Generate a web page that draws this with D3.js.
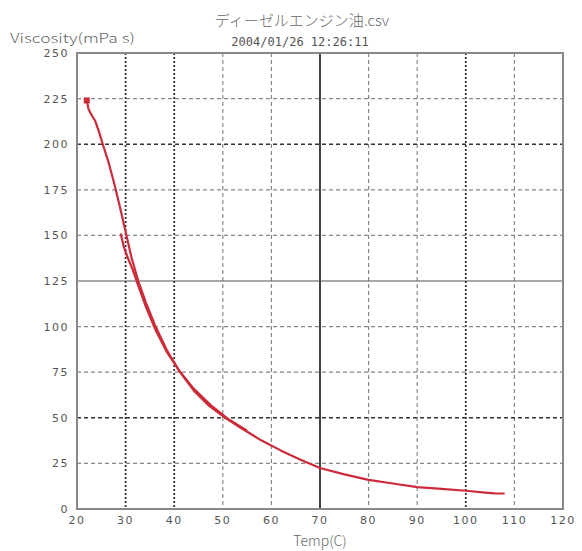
<!DOCTYPE html>
<html>
<head>
<meta charset="utf-8">
<style>
  body { margin: 0; background: #fff; }
  svg { display: block; }
  .tick-label { font-family: "DejaVu Sans", sans-serif; font-size: 11px; letter-spacing: 1.5px; fill: #555; }
  .axis-title { font-family: "Noto Sans CJK JP", "DejaVu Sans", sans-serif; font-weight: 300; fill: #666; }
  .stamp { font-family: "DejaVu Sans Mono", monospace; font-size: 12px; fill: #555; }
</style>
<script src="https://cdn.jsdelivr.net/npm/d3@7/dist/d3.min.js"></script>
</head>
<body>
<div id="chart"></div>
<script>
// ---- data ----
var xTicks = [20, 30, 40, 50, 60, 70, 80, 90, 100, 110, 120];
var yTicks = [0, 25, 50, 75, 100, 125, 150, 175, 200, 225, 250];

// first run (heating), temp / viscosity
var run1Temp = [22, 22.4, 23, 23.7, 24.5, 25.3, 26.5, 27.7, 28.8, 30, 31.2, 32.6, 34.2, 36, 38.5, 41.2, 44, 47, 50.5, 54, 58, 62, 66, 70, 75, 80, 85, 90, 95, 100, 104, 106, 108];
var run1Visc = [224, 219, 216, 213, 207, 200, 190, 178, 166, 152, 138, 125, 113, 101, 87, 75, 65, 57, 50, 44, 37.5, 32, 27, 22.5, 19, 16, 14, 12, 11, 10, 9, 8.6, 8.5];

// second run, starts lower and joins the first
var run2Temp = [29, 29.6, 30.4, 31.5, 32.8, 34.3, 36.2, 38.5, 41, 44, 47.5, 51, 55];
var run2Visc = [151, 144, 138, 131, 121, 110, 98, 86, 76, 66, 57, 49.5, 43];

var series = [
  run1Temp.map(function (t, i) { return [t, run1Visc[i]]; }),
  run2Temp.map(function (t, i) { return [t, run2Visc[i]]; })
];

// ---- layout ----
var W = 582, H = 551;
var plotLeft = 77, plotRight = 563, plotTop = 53, plotBottom = 509;

var x = d3.scaleLinear().domain([20, 120]).range([plotLeft, plotRight]);
var y = d3.scaleLinear().domain([0, 250]).range([plotBottom, plotTop]);

var svg = d3.select("#chart").append("svg")
  .attr("width", W).attr("height", H);

// vertical grid
var darkX = [30, 40, 100];
svg.selectAll("line.vgrid")
  .data(xTicks.filter(function (d) { return d > 20 && d < 120; }))
  .enter().append("line")
  .attr("class", "vgrid")
  .attr("x1", function (d) { return x(d); })
  .attr("x2", function (d) { return x(d); })
  .attr("y1", plotTop).attr("y2", plotBottom)
  .attr("stroke", function (d) { return d === 70 ? "#111" : darkX.indexOf(d) >= 0 ? "#333" : "#888"; })
  .attr("stroke-width", function (d) { return d === 70 ? 1.6 : darkX.indexOf(d) >= 0 ? 1.8 : 1.2; })
  .attr("stroke-dasharray", function (d) { return d === 70 ? null : darkX.indexOf(d) >= 0 ? "2,2" : "4,3"; });

// horizontal grid
var darkY = [200, 50];
svg.selectAll("line.hgrid")
  .data(yTicks.filter(function (d) { return d > 0 && d < 250; }))
  .enter().append("line")
  .attr("class", "hgrid")
  .attr("y1", function (d) { return y(d); })
  .attr("y2", function (d) { return y(d); })
  .attr("x1", plotLeft).attr("x2", plotRight)
  .attr("stroke", function (d) { return d === 125 ? "#555" : darkY.indexOf(d) >= 0 ? "#333" : "#888"; })
  .attr("stroke-width", function (d) { return d === 125 ? 1.2 : darkY.indexOf(d) >= 0 ? 1.6 : 1.2; })
  .attr("stroke-dasharray", function (d) { return d === 125 ? null : "4,3"; });

// frame
svg.append("rect")
  .attr("x", plotLeft).attr("y", plotTop)
  .attr("width", plotRight - plotLeft).attr("height", plotBottom - plotTop)
  .attr("fill", "none").attr("stroke", "#888").attr("stroke-width", 2);

// tick labels
svg.selectAll("text.ylab")
  .data(yTicks)
  .enter().append("text")
  .attr("class", "tick-label")
  .attr("x", plotLeft - 8)
  .attr("y", function (d) { return y(d) + 4; })
  .attr("text-anchor", "end")
  .text(function (d) { return d; });

svg.selectAll("text.xlab")
  .data(xTicks)
  .enter().append("text")
  .attr("class", "tick-label")
  .attr("x", function (d) { return x(d); })
  .attr("y", plotBottom + 15)
  .attr("text-anchor", "middle")
  .text(function (d) { return d; });

// curves
var line = d3.line()
  .x(function (d) { return x(d[0]); })
  .y(function (d) { return y(d[1]); })
  .curve(d3.curveLinear);

svg.selectAll("path.run")
  .data(series)
  .enter().append("path")
  .attr("class", "run")
  .attr("d", line)
  .attr("fill", "none")
  .attr("stroke", "#cc2b3a")
  .attr("stroke-width", 2.2)
  .attr("stroke-linejoin", "round");

// start marker
svg.append("rect")
  .attr("x", x(run1Temp[0]) - 3).attr("y", y(run1Visc[0]) - 3)
  .attr("width", 6).attr("height", 6)
  .attr("fill", "#cc2b3a");

// titles
svg.append("text").attr("class", "axis-title")
  .attr("x", 10).attr("y", 43)
  .attr("font-size", "13px")
  .attr("fill", "#777")
  .attr("textLength", 125).attr("lengthAdjust", "spacingAndGlyphs")
  .text("Viscosity(mPa s)");

svg.append("text").attr("class", "axis-title")
  .attr("x", 302).attr("y", 26)
  .attr("text-anchor", "middle")
  .attr("font-size", "15px")
  .text("ディーゼルエンジン油.csv");

svg.append("text").attr("class", "stamp")
  .attr("x", 300).attr("y", 46)
  .attr("text-anchor", "middle")
  .text("2004/01/26 12:26:11");

svg.append("text").attr("class", "axis-title")
  .attr("x", x(70)).attr("y", 546)
  .attr("text-anchor", "middle")
  .attr("font-size", "14px")
  .text("Temp(C)");
</script>
</body>
</html>
